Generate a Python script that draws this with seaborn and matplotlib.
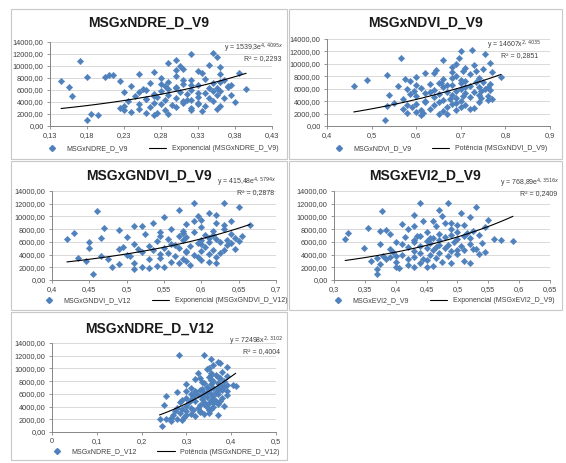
import numpy as np
import pandas as pd
import seaborn as sns
import matplotlib.pyplot as plt
from matplotlib.patches import Rectangle
from matplotlib.lines import Line2D

# MSG (dependent variable), shared by every panel
msg = [7450, 6450, 10900, 1000, 8200, 5000, 2050, 1800, 8450, 12050,
       12150, 11550, 11000, 10550, 10200, 9850, 9500, 9250, 9000, 8800,
       8650, 8500, 8300, 8100, 7950, 7900, 7750, 7600, 7500, 7300,
       7200, 7150, 7000, 6900, 6800, 6700, 6600, 6500, 6400, 6300,
       6250, 6100, 6000, 5900, 5850, 5700, 5600, 5500, 5400, 5300,
       5250, 5100, 5000, 4900, 4800, 4700, 4650, 4500, 4400, 4300,
       4250, 4100, 4000, 3900, 3800, 3700, 3600, 3500, 3400, 3300,
       3250, 3100, 3000, 2900, 2800, 2700, 2600, 2500, 2400, 2200,
       2100, 2000, 1900, 6650, 7700, 5800, 4550, 3850, 9300, 8700,
       5200, 6200, 4350, 7050, 3350, 2750, 10000, 6850, 4750, 5650,
       5550, 4950, 6350, 7400, 3650, 8900, 4150, 5950, 3050, 6550]

ndre_v9 = [0.145, 0.155, 0.17, 0.18, 0.18, 0.16, 0.185, 0.195, 0.21, 0.32,
           0.35, 0.355, 0.30, 0.29, 0.345, 0.36, 0.31, 0.33, 0.27, 0.385,
           0.25, 0.215, 0.30, 0.205, 0.28, 0.34, 0.365, 0.32, 0.225, 0.29,
           0.35, 0.265, 0.31, 0.375, 0.33, 0.24, 0.285, 0.37, 0.30, 0.345,
           0.255, 0.395, 0.32, 0.28, 0.36, 0.23, 0.305, 0.34, 0.27, 0.315,
           0.29, 0.355, 0.245, 0.33, 0.275, 0.30, 0.365, 0.26, 0.32, 0.285,
           0.35, 0.235, 0.38, 0.31, 0.27, 0.33, 0.25, 0.295, 0.34, 0.23,
           0.30, 0.265, 0.32, 0.25, 0.355, 0.32, 0.285, 0.335, 0.24, 0.275,
           0.26, 0.29, 0.27, 0.37, 0.31, 0.35, 0.26, 0.33, 0.30, 0.36,
           0.375, 0.29, 0.315, 0.28, 0.36, 0.23, 0.305, 0.32, 0.345, 0.25,
           0.33, 0.27, 0.355, 0.36, 0.28, 0.335, 0.31, 0.26, 0.225, 0.30]

ndvi_v9 = [0.49, 0.46, 0.565, 0.53, 0.535, 0.54, 0.58, 0.61, 0.64, 0.70,
           0.725, 0.755, 0.695, 0.66, 0.765, 0.73, 0.68, 0.75, 0.645, 0.705,
           0.77, 0.62, 0.72, 0.69, 0.79, 0.60, 0.74, 0.575, 0.66, 0.71,
           0.585, 0.75, 0.65, 0.70, 0.765, 0.63, 0.68, 0.72, 0.56, 0.74,
           0.66, 0.61, 0.70, 0.755, 0.64, 0.69, 0.595, 0.73, 0.67, 0.62,
           0.71, 0.65, 0.68, 0.76, 0.60, 0.72, 0.64, 0.69, 0.57, 0.77,
           0.66, 0.62, 0.70, 0.74, 0.65, 0.55, 0.68, 0.60, 0.71, 0.64,
           0.535, 0.67, 0.59, 0.73, 0.63, 0.57, 0.69, 0.61, 0.66, 0.60,
           0.615, 0.65, 0.67, 0.60, 0.68, 0.765, 0.745, 0.62, 0.71, 0.68,
           0.585, 0.71, 0.675, 0.735, 0.58, 0.72, 0.69, 0.655, 0.705, 0.745,
           0.63, 0.74, 0.76, 0.70, 0.69, 0.735, 0.76, 0.58, 0.70, 0.67]

gndvi_v9 = [0.43, 0.42, 0.46, 0.455, 0.47, 0.45, 0.48, 0.51, 0.52, 0.59,
            0.63, 0.65, 0.57, 0.61, 0.62, 0.55, 0.60, 0.64, 0.535, 0.58,
            0.665, 0.51, 0.60, 0.56, 0.63, 0.49, 0.615, 0.545, 0.59, 0.64,
            0.525, 0.605, 0.57, 0.655, 0.58, 0.50, 0.465, 0.62, 0.555, 0.60,
            0.575, 0.54, 0.625, 0.45, 0.595, 0.56, 0.51, 0.635, 0.585, 0.53,
            0.605, 0.55, 0.57, 0.645, 0.49, 0.615, 0.535, 0.58, 0.52, 0.625,
            0.555, 0.61, 0.50, 0.59, 0.465, 0.565, 0.62, 0.435, 0.545, 0.575,
            0.53, 0.60, 0.445, 0.56, 0.61, 0.51, 0.57, 0.49, 0.585, 0.54,
            0.55, 0.52, 0.53, 0.61, 0.575, 0.64, 0.60, 0.505, 0.59, 0.63,
            0.495, 0.65, 0.58, 0.615, 0.475, 0.62, 0.595, 0.545, 0.63, 0.60,
            0.565, 0.515, 0.635, 0.575, 0.595, 0.62, 0.545, 0.61, 0.58, 0.645]

evi2_v9 = [0.322, 0.318, 0.378, 0.37, 0.355, 0.348, 0.40, 0.37, 0.43, 0.44,
           0.485, 0.53, 0.47, 0.505, 0.43, 0.52, 0.55, 0.445, 0.49, 0.41,
           0.51, 0.465, 0.545, 0.42, 0.49, 0.385, 0.525, 0.45, 0.50, 0.47,
           0.39, 0.535, 0.44, 0.51, 0.48, 0.415, 0.46, 0.50, 0.56, 0.43,
           0.57, 0.59, 0.495, 0.40, 0.455, 0.52, 0.375, 0.47, 0.44, 0.505,
           0.42, 0.48, 0.45, 0.53, 0.39, 0.46, 0.51, 0.43, 0.545, 0.47,
           0.44, 0.50, 0.41, 0.455, 0.38, 0.485, 0.43, 0.37, 0.465, 0.42,
           0.385, 0.45, 0.36, 0.475, 0.40, 0.44, 0.49, 0.375, 0.42, 0.46,
           0.43, 0.45, 0.405, 0.52, 0.375, 0.54, 0.49, 0.40, 0.46, 0.50,
           0.465, 0.45, 0.395, 0.49, 0.445, 0.52, 0.475, 0.435, 0.50, 0.41,
           0.485, 0.525, 0.47, 0.515, 0.39, 0.48, 0.535, 0.43, 0.51, 0.455]

ndre_v12 = [0.405, 0.30, 0.375, 0.245, 0.355, 0.29, 0.24, 0.265, 0.33, 0.283,
            0.34, 0.355, 0.37, 0.36, 0.39, 0.345, 0.38, 0.325, 0.365, 0.39,
            0.35, 0.375, 0.32, 0.36, 0.385, 0.335, 0.37, 0.30, 0.355, 0.38,
            0.41, 0.345, 0.36, 0.31, 0.375, 0.335, 0.35, 0.39, 0.32, 0.365,
            0.28, 0.34, 0.355, 0.37, 0.325, 0.36, 0.255, 0.345, 0.30, 0.38,
            0.335, 0.31, 0.355, 0.365, 0.32, 0.34, 0.285, 0.35, 0.37, 0.25,
            0.33, 0.30, 0.345, 0.36, 0.31, 0.325, 0.29, 0.35, 0.315, 0.275,
            0.30, 0.33, 0.285, 0.31, 0.34, 0.37, 0.27, 0.32, 0.295, 0.265,
            0.28, 0.255, 0.29, 0.38, 0.34, 0.39, 0.36, 0.28, 0.355, 0.37,
            0.36, 0.32, 0.34, 0.385, 0.33, 0.30, 0.35, 0.37, 0.305, 0.335,
            0.315, 0.375, 0.345, 0.39, 0.355, 0.355, 0.385, 0.31, 0.35, 0.33]

titles = ["MSGxNDRE_D_V9", "MSGxNDVI_D_V9", "MSGxGNDVI_D_V9", "MSGxEVI2_D_V9", "MSGxNDRE_D_V12"]
series_names = ["MSGxNDRE_D_V9", "MSGxNDVI_D_V9", "MSGxGNDVI_D_V12", "MSGxEVI2_D_V9", "MSGxNDRE_D_V12"]
trend_kinds = ["Exponencial", "Potência", "Exponencial", "Exponencial", "Potência"]
trend_a = [1539.3, 14607, 415.48, 768.89, 72498]
trend_b = [4.4095, 2.4035, 4.5794, 4.3516, 2.3102]
equations = [r"y = 1539,3e$^{4,4095x}$", r"y = 14607x$^{2,4035}$", r"y = 415,48e$^{4,5794x}$",
             r"y = 768,89e$^{4,3516x}$", r"y = 72498x$^{2,3102}$"]
r2_labels = ["R² = 0,2293", "R² = 0,2851", "R² = 0,2878", "R² = 0,2409", "R² = 0,4004"]
x_limits = [(0.13, 0.43), (0.4, 0.9), (0.4, 0.7), (0.3, 0.65), (0.0, 0.5)]
x_steps = [0.05, 0.1, 0.05, 0.05, 0.1]
y_ticks = [0, 2000, 4000, 6000, 8000, 10000, 12000, 14000]

xs_all = [ndre_v9, ndvi_v9, gndvi_v9, evi2_v9, ndre_v12]

# layout in pixels: panel box, plot area, title y, legend y, equation anchor
W, H = 566, 463
boxes = [(11, 287, 9, 159), (289, 562, 9, 159), (11, 287, 161, 310), (289, 562, 161, 310), (11, 287, 312, 460)]
plots = [(50, 272, 42, 126), (327, 550, 39, 126), (52, 276, 191, 280), (334, 550, 191, 280), (52, 276, 343, 432)]
title_y = [23, 23, 176, 176, 329]
legend_y = [149, 149, 301, 301, 452]
eq_pos = [(284, 48), (541, 45), (277, 182), (560, 183), (283, 341)]

blue = "#4F81BD"
sns.set_style("white")
plt.rcParams["font.family"] = ["Liberation Sans", "DejaVu Sans"]

fig = plt.figure(figsize=(W / 100, H / 100), dpi=100)

for i in range(5):
    bx0, bx1, by0, by1 = boxes[i]
    fig.patches.append(Rectangle((bx0 / W, 1 - by1 / H), (bx1 - bx0) / W, (by1 - by0) / H,
                                 transform=fig.transFigure, fill=False, edgecolor="#C8C8C8", lw=0.8))

    px0, px1, py0, py1 = plots[i]
    ax = fig.add_axes([px0 / W, 1 - py1 / H, (px1 - px0) / W, (py1 - py0) / H])

    df = pd.DataFrame({"x": xs_all[i], "y": msg})
    sns.scatterplot(data=df, x="x", y="y", ax=ax, marker="D", s=11, color=blue,
                    edgecolor=blue, linewidth=0.3, zorder=3, legend=False)

    tx = np.linspace(df["x"].min(), df["x"].max(), 60)
    if trend_kinds[i] == "Exponencial":
        ty = trend_a[i] * np.exp(trend_b[i] * tx)
    else:
        ty = trend_a[i] * tx ** trend_b[i]
    sns.lineplot(x=tx, y=ty, ax=ax, color="black", lw=0.8, zorder=4)

    lo, hi = x_limits[i]
    ax.set_xlim(lo, hi)
    ax.set_ylim(0, 14000)
    xt = np.round(np.arange(lo, hi + 1e-9, x_steps[i]), 2)
    ax.set_xticks(xt)
    ax.set_xticklabels([f"{v:g}".replace(".", ",") for v in xt])
    ax.set_yticks(y_ticks)
    ax.set_yticklabels([f"{v:.2f}".replace(".", ",") for v in y_ticks])
    ax.set_xlabel("")
    ax.set_ylabel("")
    ax.grid(axis="y", color="#D9D9D9", lw=0.7)
    ax.set_axisbelow(True)
    for side in ["top", "right"]:
        ax.spines[side].set_visible(False)
    for side in ["left", "bottom"]:
        ax.spines[side].set_color("#868686")
        ax.spines[side].set_linewidth(0.7)
    ax.tick_params(axis="both", which="both", direction="out", length=2.5, width=0.6,
                   color="#868686", labelsize=5.3, labelcolor="#404040", pad=2,
                   left=True, bottom=True)

    fig.text((bx0 + bx1) / 2 / W, 1 - title_y[i] / H, titles[i], ha="center", va="center",
             fontsize=10, fontweight="bold", color="#1a1a1a")

    ex, ey = eq_pos[i]
    fig.text(ex / W, 1 - ey / H, equations[i], ha="right", va="center", fontsize=5, color="#404040")
    fig.text((ex - 3) / W, 1 - (ey + 11) / H, r2_labels[i], ha="right", va="center", fontsize=5, color="#404040")

    handles = [Line2D([], [], marker="D", ls="none", color=blue, ms=3),
               Line2D([], [], color="black", lw=0.8)]
    labels = [series_names[i], f"{trend_kinds[i]} ({series_names[i]})"]
    fig.legend(handles, labels, loc="center", ncol=2, frameon=False, fontsize=5,
               bbox_to_anchor=((px0 + px1) / 2 / W, 1 - legend_y[i] / H),
               handlelength=2.5, columnspacing=3, handletextpad=0.8, labelcolor="#404040",
               borderpad=0, borderaxespad=0)

fig.savefig("out.png", dpi=100, facecolor="white")
